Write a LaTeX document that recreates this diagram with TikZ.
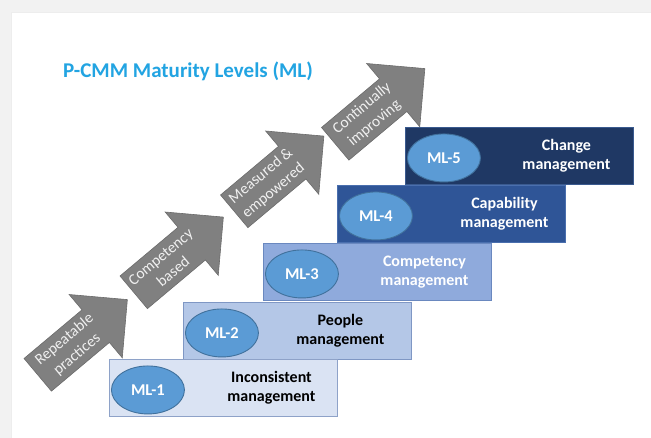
\documentclass[tikz,border=0pt]{standalone}
\usepackage{fontspec}
\setmainfont{Carlito}
\usetikzlibrary{calc, positioning, shapes.geometric, shapes.arrows}

\definecolor{pagegray}{HTML}{F2F2F2}
\definecolor{titleblue}{HTML}{22A4E2}
\definecolor{bubblefill}{HTML}{5B9BD5}
\definecolor{bubbleedge}{HTML}{41719C}
\definecolor{lvlonefill}{HTML}{DAE3F3}
\definecolor{lvloneedge}{HTML}{8EA2C8}
\definecolor{lvltwofill}{HTML}{B4C7E7}
\definecolor{lvltwoedge}{HTML}{7F97C4}
\definecolor{lvlthreefill}{HTML}{8FAADC}
\definecolor{lvlthreeedge}{HTML}{6A88BF}
\definecolor{lvlfourfill}{HTML}{2F5597}
\definecolor{lvlfouredge}{HTML}{4A6FAE}
\definecolor{lvlfivefill}{HTML}{1F3864}
\definecolor{lvlfiveedge}{HTML}{3A5A8F}

\begin{document}
\begin{tikzpicture}[
    x=1pt, y=-1pt,
    lvl/.style={rectangle, draw=#1edge, fill=#1fill, line width=0.9pt, minimum width=228pt, minimum height=57pt, inner sep=0pt, anchor=north west},
    mlbubble/.style={ellipse, draw=bubbleedge, fill=bubblefill, line width=0.9pt, minimum width=73pt, minimum height=48pt, inner sep=0pt, text=white, font=\bfseries\fontsize{16.5}{19}\selectfont},
    lvltext/.style={align=center, inner sep=0pt, font=\bfseries\fontsize{16}{19.5}\selectfont},
    stepup/.style={single arrow, draw=black!58, fill=black!50, line width=0.6pt, minimum height=117pt, inner xsep=0pt, inner ysep=21pt, single arrow head extend=20pt, anchor=tail, rotate=40},
    stepuptext/.style={align=center, inner sep=0pt, text=white!94!black, rotate=40, font=\fontsize{15.5}{19.5}\selectfont}
]
\useasboundingbox (0,0) rectangle (651,438);
\fill[pagegray] (0,0) rectangle (651,438);
\fill[white] (11,13) rectangle (651,438);
\draw[black!7, line width=1pt] (11,438) |- (651,13);

\node[anchor=base west, inner sep=0pt, text=titleblue, font=\bfseries\fontsize{21}{25}\selectfont] (title) at (63,78) {P-CMM Maturity Levels (ML)};

% arrows climbing the stairs
\node[stepup] (a1) at (37.5,375) {};
\node[stepup] (a2) at (133.5,292.5) {};
\node[stepup] (a3) at (234,211.5) {};
\node[stepup] (a4) at (335,144) {};

\node[stepuptext] (s1) at ($(a1.tail)!0.37!(a1.tip)$) {Repeatable\\practices};
\node[stepuptext] (s2) at ($(a2.tail)!0.37!(a2.tip)$) {Competency\\based};
\node[stepuptext] (s3) at ($(a3.tail)!0.37!(a3.tip)$) {Measured \&\\empowered};
\node[stepuptext] (s4) at ($(a4.tail)!0.37!(a4.tip)$) {Continually\\improving};

% maturity levels
\node[lvl=lvlfive] (b5) at (405,127) {};
\node[lvl=lvlfour] (b4) at (337,185) {};
\node[lvl=lvlthree] (b3) at (263,243) {};
\node[lvl=lvltwo] (b2) at (183,302) {};
\node[lvl=lvlone] (b1) at (109,359) {};

\node[mlbubble, right=2pt of b1.west, yshift=-2pt] (e1) {ML-1};
\node[mlbubble, right=2pt of b2.west, yshift=-2pt] (e2) {ML-2};
\node[mlbubble, right=2pt of b3.west, yshift=-2pt] (e3) {ML-3};
\node[mlbubble, right=2pt of b4.west, yshift=-2pt] (e4) {ML-4};
\node[mlbubble, right=2pt of b5.west, yshift=-2pt] (e5) {ML-5};

\node[lvltext] (t1) at ([xshift=48pt]b1.center) {Inconsistent\\management};
\node[lvltext] (t2) at ([xshift=43pt]b2.center) {People\\management};
\node[lvltext, text=white] (t3) at ([xshift=47pt]b3.center) {Competency\\management};
\node[lvltext, text=white] (t4) at ([xshift=53pt]b4.center) {Capability\\management};
\node[lvltext, text=white] (t5) at ([xshift=47pt]b5.center) {Change\\management};
\end{tikzpicture}
\end{document}
